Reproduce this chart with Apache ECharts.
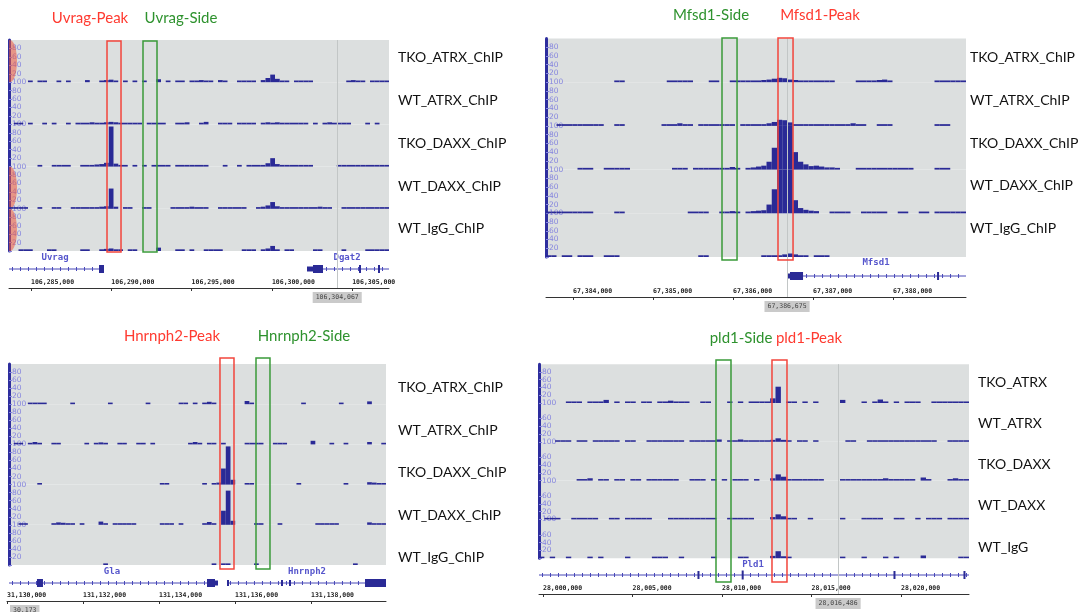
<!DOCTYPE html>
<html><head><meta charset="utf-8">
<script src="https://cdn.jsdelivr.net/npm/echarts@6/dist/echarts.min.js"></script>
<style>html,body{margin:0;padding:0;background:#fff}#c{width:1088px;height:612px}</style>
</head><body><div id="c"></div>
<script>
const _ = null;
const N = 80; // bins per track

// ---------- Panel 1 : Uvrag ----------
const p1Range = [106283630, 106307292];
const p1Ticks = [106285000, 106290000, 106295000, 106300000, 106305000];
const p1TickLabels = ['106,285,000', '106,290,000', '106,295,000', '106,300,000', '106,305,000'];
const p1Cursor = 106304067;
const p1PeakBox = [106289733, 106290605];
const p1SideBox = [106291974, 106292846];
const p1Titles = ['Uvrag-Peak', 'Uvrag-Side'];
const p1Tracks = ['TKO_ATRX_ChIP', 'WT_ATRX_ChIP', 'TKO_DAXX_ChIP', 'WT_DAXX_ChIP', 'WT_IgG_ChIP'];
const p1TkoAtrx = [_,_,_,_,4,_,4,4,_,_, 4,_,4,_,_,_,5,_,_,4, 5,6,4,_,4,_,4,_,4,_, _,7,_,4,_,4,4,_,4,4, 5,4,4,_,5,4,_,_,4,4, 4,4,_,5,10,18,8,4,4,_, 4,4,4,4,_,_,_,_,_,_, _,4,5,4,4,_,4,4,4,4];
const p1WtAtrx  = [_,4,4,_,4,_,_,4,_,4, _,_,4,_,4,4,4,5,4,4, 5,6,5,4,4,4,4,4,_,4, 4,4,4,_,_,4,4,5,_,_, 4,6,_,_,4,4,4,_,4,4, 4,4,_,4,5,4,5,4,4,4, 4,4,4,_,4,_,4,5,4,4, 4,4,_,_,_,4,_,4,_,_];
const p1TkoDaxx = [_,_,_,_,_,_,4,_,_,4, 4,4,4,_,_,4,4,4,5,6, 9,95,7,4,4,_,4,_,4,_, 4,4,4,4,_,4,4,4,4,4, 4,4,_,_,_,4,_,_,4,_, 4,4,4,4,8,20,6,4,4,4, 4,4,4,4,_,_,_,_,_,4, 4,4,4,4,4,4,4,4,4,4];
const p1WtDaxx  = [4,4,4,4,_,_,4,_,_,4, 4,_,_,4,4,4,4,4,4,5, 6,48,5,_,4,4,_,_,4,4, _,_,_,_,4,4,4,4,5,4, 4,4,_,_,4,4,4,4,4,4, _,_,4,5,8,16,6,4,4,4, 4,4,4,4,4,5,4,4,_,_, 4,4,4,4,4,4,4,4,4,4];
const p1WtIgg   = [_,_,4,4,4,_,_,_,4,4, _,_,_,_,_,4,4,_,_,4, 5,6,4,4,_,4,4,_,_,_, _,8,_,_,_,4,4,_,4,_, _,4,4,4,4,_,_,_,_,4, 4,4,_,4,6,12,4,_,4,4, _,_,_,_,4,4,_,_,_,_, 4,_,_,_,_,4,4,4,4,4];
const p1GeneLines = [[106283630, 106289297], [106303183, 106307292]];
const p1Exons = [[106289235, 106289546, 8], [106302186, 106302560, 5], [106302560, 106303183, 8], [106305425, 106305550, 8], [106306608, 106306732, 8]];
const p1GeneNames = [['Uvrag', 106286495], ['Dgat2', 106304680]];
const p1AxisMarks = [0, 3, 4]; // tracks flagged on the scale bar

// ---------- Panel 2 : Mfsd1 ----------
const p2Range = [67383662, 67388912];
const p2Ticks = [67384000, 67385000, 67386000, 67387000, 67388000];
const p2TickLabels = ['67,384,000', '67,385,000', '67,386,000', '67,387,000', '67,388,000'];
const p2Cursor = 67386675;
const p2PeakBox = [67386562, 67386750];
const p2SideBox = [67385862, 67386050];
const p2Titles = ['Mfsd1-Peak', 'Mfsd1-Side'];
const p2Tracks = ['TKO_ATRX_ChIP', 'WT_ATRX_ChIP', 'TKO_DAXX_ChIP', 'WT_DAXX_ChIP', 'WT_IgG_ChIP'];
const p2TkoAtrx = [_,_,_,_,_,_,_,_,_,_, _,_,_,4,4,_,_,_,_,_, _,_,_,4,4,4,4,4,_,_, _,4,4,_,_,4,4,4,4,4, 4,5,6,8,10,9,6,5,4,4, 4,4,4,4,4,_,_,_,_,4, 4,4,4,5,6,4,_,_,_,_, _,_,_,_,4,4,4,4,4,4];
const p2WtAtrx  = [_,_,4,4,4,4,4,4,4,4, 4,_,_,4,4,_,_,_,_,_, _,_,4,4,4,6,4,4,_,4, 4,4,4,4,4,4,_,4,4,4, 4,4,6,9,14,13,8,4,4,4, 4,4,4,4,4,4,4,4,6,4, 4,_,_,4,4,4,_,_,_,_, _,_,_,_,4,4,4,_,_,_];
const p2TkoDaxx = [_,_,_,_,_,_,4,4,4,_, _,4,4,4,4,4,_,_,_,_, _,_,_,_,4,4,4,_,4,4, 4,4,4,4,4,6,4,_,4,5, 7,9,18,50,100,100,100,40,18,12, 8,9,7,5,5,4,_,_,_,4, 4,4,4,4,4,4,4,4,4,4, _,_,_,_,4,4,4,_,_,_];
const p2WtDaxx  = [4,4,4,4,4,4,4,4,4,_, _,_,_,4,4,_,_,_,_,_, _,_,_,_,_,_,_,4,4,4, 4,_,_,4,4,5,4,_,4,5, 6,7,20,55,100,100,100,30,12,8, 6,5,_,_,4,4,4,4,_,_, 4,4,4,4,4,_,_,4,4,_, _,4,4,_,4,4,4,4,4,4];
const p2WtIgg   = [4,4,_,4,4,_,4,4,4,_, _,4,4,4,_,_,_,_,_,_, _,_,_,_,_,_,_,_,_,4, 4,_,_,_,_,_,_,_,_,_, _,4,4,4,4,6,8,6,4,4, _,4,4,4,_,_,_,_,_,_, _,_,_,_,_,_,_,_,_,_, _,_,_,_,_,_,_,_,_,_];
const p2GeneLines = [[67386875, 67388912]];
const p2Exons = [[67386675, 67386712, 5], [67386712, 67386875, 8], [67388550, 67388575, 8]];
const p2GeneNames = [['Mfsd1', 67387787]];

// ---------- Panel 3 : Hnrnph2 ----------
const p3Range = [131130053, 131139974];
const p3RulerRange = [131130000, 131139974];
const p3Ticks = [131130000, 131132000, 131134000, 131136000, 131138000];
const p3TickLabels = ['31,130,000', '131,132,000', '131,134,000', '131,136,000', '131,138,000'];
const p3CursorText = '30,173';
const p3PeakBox = [131135605, 131135974];
const p3SideBox = [131136553, 131136921];
const p3Titles = ['Hnrnph2-Peak', 'Hnrnph2-Side'];
const p3Tracks = ['TKO_ATRX_ChIP', 'WT_ATRX_ChIP', 'TKO_DAXX_ChIP', 'WT_DAXX_ChIP', 'WT_IgG_ChIP'];
const p3TkoAtrx = [_,_,_,_,4,4,4,4,_,_, _,_,_,4,_,_,_,_,_,_, _,4,_,_,_,_,_,_,_,4, _,_,_,_,_,_,4,4,_,4, _,4,6,4,_,_,_,_,_,_, 8,4,_,_,_,_,_,_,_,_, _,_,4,_,_,_,_,_,_,_, 4,_,_,_,_,_,7,_,_,_];
const p3WtAtrx  = [_,4,4,_,4,6,4,_,_,4, 4,_,_,_,_,_,4,_,4,5, 4,_,_,4,4,_,_,4,4,_, 4,_,_,_,_,_,_,_,4,6, 4,_,4,4,_,4,_,_,_,_, 4,4,4,4,_,_,4,4,4,_, _,_,_,_,9,_,_,_,4,_, _,4,_,_,_,_,6,_,_,4];
const p3TkoDaxx = [_,_,_,_,_,_,4,_,_,_, _,_,_,_,_,_,_,_,_,_, _,_,_,_,_,_,_,_,_,_, _,_,4,4,_,_,_,_,_,_, _,4,_,4,5,40,95,12,_,_, 4,4,_,_,_,_,_,_,_,_, _,4,_,_,_,_,_,_,_,_, _,4,_,_,_,_,6,5,4,4];
const p3WtDaxx  = [_,_,4,4,_,_,_,_,_,4, 6,5,4,4,_,4,_,_,_,8, 4,_,4,4,4,4,4,_,_,_, _,_,4,4,4,_,4,_,_,_, _,4,7,4,_,35,85,10,_,_, _,_,4,4,_,_,_,4,_,_, _,_,_,_,_,4,4,4,4,4, _,_,_,_,_,_,6,4,4,4];
const p3WtIgg   = [_,_,_,_,_,_,_,_,_,_, _,_,_,_,_,_,_,_,_,_, 4,_,_,_,_,_,_,_,_,_, _,_,_,_,_,_,_,_,_,_, _,_,_,4,_,4,4,_,_,_, _,_,4,_,_,_,_,_,_,_, _,_,_,_,_,_,_,_,_,_, _,_,_,4,_,_,_,_,_,_];
const p3GeneLines = [[131130053, 131135526], [131135789, 131139974]];
const p3Exons = [[131130789, 131130947, 8], [131135263, 131135474, 8], [131135474, 131135553, 5], [131135789, 131135842, 6], [131137211, 131137263, 6], [131137421, 131137474, 6], [131139421, 131139974, 8]];
const p3GeneNames = [['Gla', 131132763], ['Hnrnph2', 131137895]];

// ---------- Panel 4 : Pld1 ----------
const p4Range = [27999777, 28023799];
const p4Ticks = [28000000, 28005000, 28010000, 28015000, 28020000];
const p4TickLabels = ['28,000,000', '28,005,000', '28,010,000', '28,015,000', '28,020,000'];
const p4Cursor = 28016486;
const p4PeakBox = [28012793, 28013631];
const p4SideBox = [28009665, 28010503];
const p4Titles = ['pld1-Peak', 'pld1-Side'];
const p4Tracks = ['TKO_ATRX', 'WT_ATRX', 'TKO_DAXX', 'WT_DAXX', 'WT_IgG'];
const p4TkoAtrx = [_,_,_,_,_,4,4,4,_,4, 4,4,8,_,4,_,4,4,_,4, 4,_,4,4,6,4,4,4,_,_, 4,4,_,_,_,4,_,4,_,4, 4,4,4,12,42,_,4,4,_,4, _,4,_,_,_,_,8,_,_,_, 4,_,4,9,4,_,4,_,4,4, 4,_,_,4,4,4,4,4,4,4];
const p4WtAtrx  = [_,_,_,4,4,4,_,4,4,_, 4,4,4,4,4,_,4,4,_,_, 4,4,4,4,4,4,4,_,4,4, 4,4,4,6,_,4,4,6,4,4, 4,4,4,5,9,5,4,_,4,4, _,4,_,_,_,_,_,4,4,_, _,4,4,4,4,4,4,4,4,4, 4,4,4,4,_,_,4,4,4,4];
const p4TkoDaxx = [_,_,_,_,_,_,_,4,4,6, _,4,4,_,4,4,_,4,4,_, 4,4,4,4,4,4,_,_,4,4, 4,_,4,_,4,_,4,4,4,_, 4,_,_,6,16,10,4,4,4,4, 4,4,4,_,_,_,4,4,4,4, 4,4,4,4,6,4,4,4,4,4, _,8,4,_,_,_,4,6,4,4];
const p4WtDaxx  = [_,4,4,4,_,_,4,4,4,4, 4,_,_,4,4,_,4,4,4,4, 4,_,_,_,4,4,4,4,4,4, 4,4,4,_,_,4,4,4,4,4, _,_,_,6,13,8,4,4,_,_, 4,_,_,_,_,_,4,_,_,_, 4,4,4,4,_,_,4,4,_,_, 4,_,4,4,4,_,4,4,4,4];
const p4WtIgg   = [4,_,4,_,_,4,_,_,_,4, _,4,_,_,_,_,4,_,_,_, _,4,4,4,_,_,4,_,_,_, _,_,4,_,_,_,_,4,4,_, _,_,_,6,18,5,4,_,_,_, _,_,_,_,_,_,4,_,_,_, 4,_,_,_,4,_,4,_,_,_, _,7,_,_,_,_,_,_,4,4];
const p4GeneLines = [[27999777, 28023799]];
const p4Exons = [[28008630, 28008690, 8], [28011100, 28011150, 9], [28019580, 28019640, 8], [28023490, 28023550, 8]];
const p4GeneNames = [['Pld1', 28011732]];

// ---------- layout (pixels) ----------
const LAYOUT = [
  {left: 9, width: 380, top: 40, trackH: 42.2, geneY: 269, nameDy: -11, rulerY: 288, rulerLeft: 9, rulerWidth: 380,
   boxTop: 41, boxBottom: 252, labelX: 398, labelYs: [57, 100, 143, 186, 228], titleXs: [90, 181], titleY: 18},
  {left: 546, width: 420, top: 38.5, trackH: 43.7, geneY: 276, nameDy: -13, rulerY: 297, rulerLeft: 546, rulerWidth: 420,
   boxTop: 38, boxBottom: 260, labelX: 970, labelYs: [57, 100, 143, 185, 228], titleXs: [820, 711], titleY: 15},
  {left: 9, width: 377, top: 364, trackH: 40.2, geneY: 583, nameDy: -11, rulerY: 601, rulerLeft: 7, rulerWidth: 379,
   boxTop: 358, boxBottom: 569, labelX: 398, labelYs: [387, 430, 472, 515, 557], titleXs: [172, 304], titleY: 336},
  {left: 539, width: 430, top: 364.2, trackH: 38.8, geneY: 575, nameDy: -10, rulerY: 594, rulerLeft: 539, rulerWidth: 430,
   boxTop: 360, boxBottom: 582, labelX: 978, labelYs: [382, 423, 464, 505, 547], titleXs: [809, 741], titleY: 338}
];

const GRAY = '#dcdfdf', BAR = '#2a2a96', AXIS = '#2e2e9e', YLBL = '#8686de';
const GENE = '#2a2a96', GENE_LINE = '#4848b8', GENE_TXT = '#5656cc';
const RED = '#f2453c', GREEN = '#3a9a3a';
const TITLE_RED = '#ff3a30', TITLE_GREEN = '#2e922e';
const MARK = 'rgba(240,90,60,0.55)';
const MONO = '"DejaVu Sans Mono", monospace';

const panels = [
  {range: p1Range, rulerRange: p1Range, ticks: p1Ticks, tickLabels: p1TickLabels, cursor: p1Cursor, boxes: [p1PeakBox, p1SideBox], titles: p1Titles, tracks: p1Tracks,
   values: [p1TkoAtrx, p1WtAtrx, p1TkoDaxx, p1WtDaxx, p1WtIgg], lines: p1GeneLines, exons: p1Exons, names: p1GeneNames, marks: p1AxisMarks},
  {range: p2Range, rulerRange: p2Range, ticks: p2Ticks, tickLabels: p2TickLabels, cursor: p2Cursor, boxes: [p2PeakBox, p2SideBox], titles: p2Titles, tracks: p2Tracks,
   values: [p2TkoAtrx, p2WtAtrx, p2TkoDaxx, p2WtDaxx, p2WtIgg], lines: p2GeneLines, exons: p2Exons, names: p2GeneNames, marks: []},
  {range: p3Range, rulerRange: p3RulerRange, ticks: p3Ticks, tickLabels: p3TickLabels, cursor: null, cursorText: p3CursorText, boxes: [p3PeakBox, p3SideBox], titles: p3Titles, tracks: p3Tracks,
   values: [p3TkoAtrx, p3WtAtrx, p3TkoDaxx, p3WtDaxx, p3WtIgg], lines: p3GeneLines, exons: p3Exons, names: p3GeneNames, marks: []},
  {range: p4Range, rulerRange: p4Range, ticks: p4Ticks, tickLabels: p4TickLabels, cursor: p4Cursor, boxes: [p4PeakBox, p4SideBox], titles: p4Titles, tracks: p4Tracks,
   values: [p4TkoAtrx, p4WtAtrx, p4TkoDaxx, p4WtDaxx, p4WtIgg], lines: p4GeneLines, exons: p4Exons, names: p4GeneNames, marks: []}
];

const grid = [], xAxis = [], yAxis = [], series = [], graphic = [];
const fmt = v => v.toLocaleString('en-US');

function addGrid(g, xa, ya) {
  const i = grid.length;
  grid.push(g);
  xAxis.push(Object.assign({gridIndex: i, type: 'value'}, xa));
  yAxis.push(Object.assign({gridIndex: i, type: 'value'}, ya));
  return i;
}

panels.forEach((p, pi) => {
  const L = LAYOUT[pi];
  const [mn, mx] = p.range;
  const bw = (mx - mn) / N;
  // coverage tracks
  p.values.forEach((vals, ti) => {
    const gi = addGrid(
      {left: L.left, width: L.width, top: L.top + ti * L.trackH, height: L.trackH, show: true, backgroundColor: GRAY, borderWidth: 0},
      {min: mn, max: mx, show: false},
      {min: 0, max: 100, interval: 20,
       axisLine: {show: true, lineStyle: {color: AXIS, width: 3}},
       axisTick: {show: true, inside: true, length: 3, lineStyle: {color: YLBL}},
       axisLabel: {inside: true, margin: 3, color: YLBL, fontSize: 7.5, fontFamily: 'DejaVu Sans',
                   showMaxLabel: ti > 0, formatter: v => (v === 0 ? '' : String(v))},
       splitLine: {show: false}}
    );
    if (p.marks.indexOf(ti) >= 0) {
      series.push({
        type: 'custom', xAxisIndex: gi, yAxisIndex: gi, clip: true, silent: true, z: 1,
        data: [[mn, 50]],
        renderItem: (params, api) => {
          const c = api.coord([api.value(0), api.value(1)]);
          const h = api.size([0, 100])[1];
          return {type: 'ellipse', shape: {cx: c[0] + 1, cy: c[1], rx: 7, ry: h / 2}, style: {fill: MARK}};
        }
      });
    }
    series.push({
      type: 'bar', xAxisIndex: gi, yAxisIndex: gi, barWidth: L.width / N, silent: true,
      itemStyle: {color: BAR},
      data: vals.map((v, i) => (v == null ? null : [mn + (i + 0.5) * bw, v])).filter(d => d)
    });
  });
  // gene track
  const gg = addGrid({left: L.left, width: L.width, top: L.geneY - 14, height: 28},
                     {min: mn, max: mx, show: false}, {min: -1, max: 1, show: false});
  series.push({
    type: 'custom', xAxisIndex: gg, yAxisIndex: gg, clip: false, silent: true,
    data: p.lines,
    renderItem: (params, api) => {
      const a = api.coord([api.value(0), 0]), b = api.coord([api.value(1), 0]);
      return {type: 'group', children: [
        {type: 'line', shape: {x1: a[0], y1: a[1], x2: b[0], y2: b[1]}, style: {stroke: GENE_LINE, lineWidth: 1}},
        {type: 'line', shape: {x1: a[0] + 3, y1: a[1], x2: b[0], y2: b[1]}, style: {stroke: GENE_LINE, lineWidth: 4, lineDash: [1, 7]}}
      ]};
    }
  });
  series.push({
    type: 'custom', xAxisIndex: gg, yAxisIndex: gg, clip: false, silent: true,
    data: p.exons,
    renderItem: (params, api) => {
      const a = api.coord([api.value(0), 0]), b = api.coord([api.value(1), 0]);
      const h = api.value(2);
      return {type: 'rect', shape: {x: a[0], y: a[1] - h / 2, width: Math.max(2, b[0] - a[0]), height: h}, style: {fill: GENE}};
    }
  });
  series.push({
    type: 'custom', xAxisIndex: gg, yAxisIndex: gg, clip: false, silent: true,
    data: p.names.map(n => [n[1]]),
    renderItem: (params, api) => {
      const c = api.coord([api.value(0), 0]);
      return {type: 'text', x: c[0], y: c[1] + L.nameDy,
              style: {text: p.names[params.dataIndex][0], fill: GENE_TXT, font: 'bold 9px ' + MONO,
                      align: 'center', verticalAlign: 'middle', textAlign: 'center', textVerticalAlign: 'middle'}};
    }
  });
  // ruler + cursor line
  const [rmn, rmx] = p.rulerRange;
  const rg = addGrid({left: L.rulerLeft, width: L.rulerWidth, top: L.top, height: L.rulerY - L.top},
    {min: rmn, max: rmx, position: 'bottom',
     axisLine: {show: true, onZero: false, lineStyle: {color: '#333', width: 1}},
     axisTick: {show: true, customValues: p.ticks, length: 3, lineStyle: {color: '#333'}},
     axisLabel: {show: true, inside: true, customValues: p.ticks, align: 'left', margin: 2, fontSize: 6.5, fontWeight: 'bold',
                 fontFamily: MONO, color: '#222', formatter: v => p.tickLabels[p.ticks.indexOf(v)]},
     splitLine: {show: false}},
    {min: 0, max: 1, show: false});
  const rs = {type: 'line', xAxisIndex: rg, yAxisIndex: rg, data: [], silent: true};
  if (p.cursor != null) {
    rs.markLine = {
      symbol: ['none', 'none'], silent: true, animation: false,
      lineStyle: {color: '#c2c6c6', width: 1, type: 'solid'},
      label: {show: true, position: 'start', distance: 4, formatter: fmt(p.cursor), backgroundColor: '#cacaca',
              padding: [2, 3], fontSize: 6.5, fontFamily: MONO, color: '#444'},
      data: [{xAxis: p.cursor}]
    };
  } else {
    graphic.push({type: 'text', left: 10, top: 605, z: 10,
      style: {text: p.cursorText, font: '6.5px ' + MONO, fill: '#444', backgroundColor: '#cacaca', padding: [2, 3]}});
  }
  series.push(rs);
  // peak / side boxes
  const bg = addGrid({left: L.left, width: L.width, top: L.boxTop, height: L.boxBottom - L.boxTop},
                     {min: mn, max: mx, show: false}, {min: 0, max: 1, show: false});
  series.push({
    type: 'custom', xAxisIndex: bg, yAxisIndex: bg, clip: false, silent: true, z: 5,
    data: p.boxes,
    renderItem: (params, api) => {
      const a = api.coord([api.value(0), 1]), b = api.coord([api.value(1), 0]);
      return {type: 'rect', shape: {x: a[0], y: a[1], width: b[0] - a[0], height: b[1] - a[1]},
              style: {fill: 'none', stroke: params.dataIndex === 0 ? RED : GREEN, lineWidth: 1.5}};
    }
  });
  // titles
  p.titles.forEach((t, k) => {
    graphic.push({type: 'text', x: L.titleXs[k], y: L.titleY,
      style: {text: t, font: '15px Lato', fill: k === 0 ? TITLE_RED : TITLE_GREEN,
              align: 'center', verticalAlign: 'middle', textAlign: 'center', textVerticalAlign: 'middle'}});
  });
  // track labels
  p.tracks.forEach((t, k) => {
    graphic.push({type: 'text', x: L.labelX, y: L.labelYs[k],
      style: {text: t, font: '14px Lato', fill: '#111', align: 'left', verticalAlign: 'middle', textAlign: 'left', textVerticalAlign: 'middle'}});
  });
});

const chart = echarts.init(document.getElementById('c'), null, {renderer: 'canvas'});
chart.setOption({animation: false, backgroundColor: '#fff', grid, xAxis, yAxis, series, graphic});
</script></body></html>
